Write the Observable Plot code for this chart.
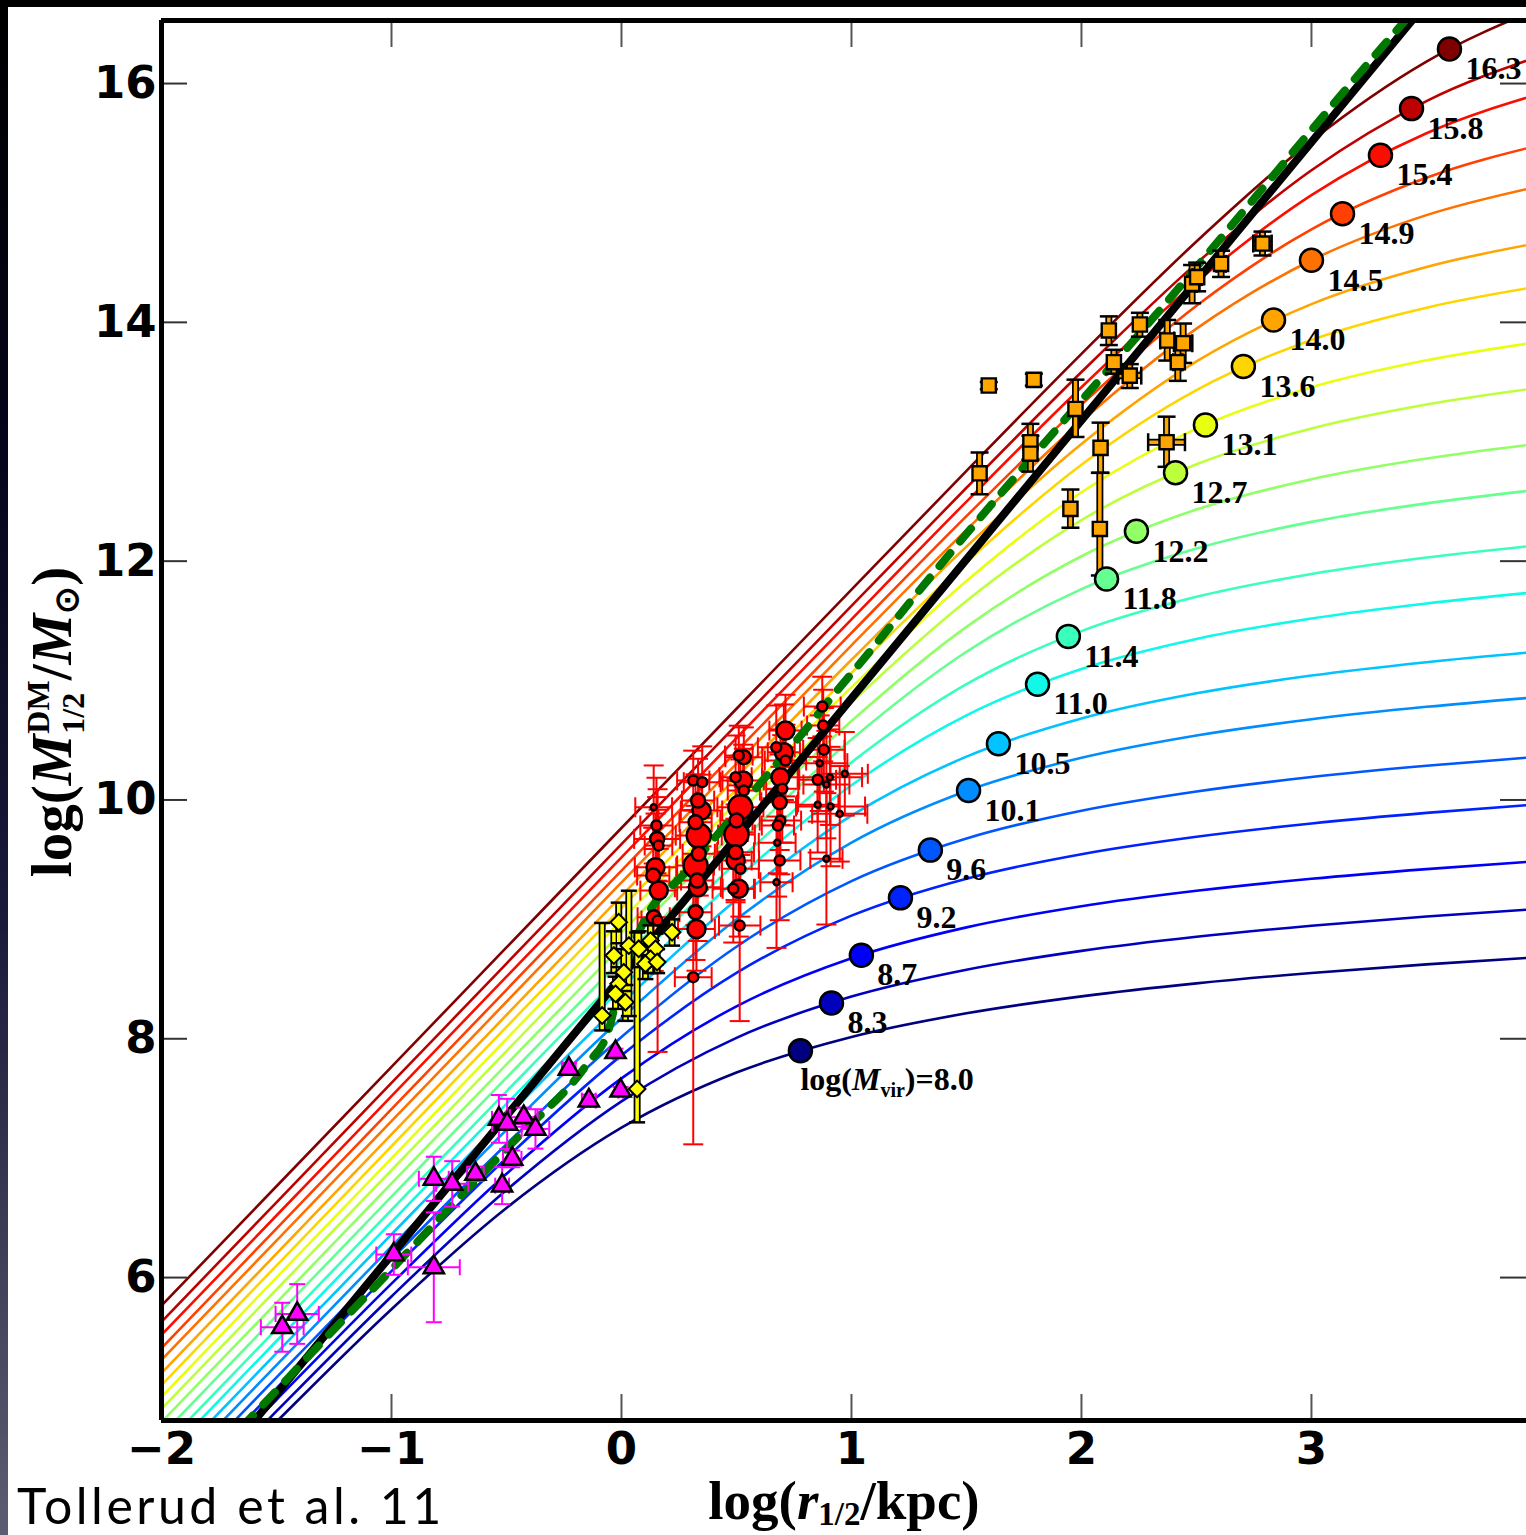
<!DOCTYPE html>
<html><head><meta charset="utf-8">
<script src="https://cdn.jsdelivr.net/npm/d3@7"></script>
<script src="https://cdn.jsdelivr.net/npm/@observablehq/plot@0.6"></script>
<style>
html,body{margin:0;padding:0;background:#fff;overflow:hidden;}
#wrap{position:relative;width:1526px;height:1535px;overflow:hidden;background:#fff;}
#chart{position:absolute;left:0;top:0;}
#topband{position:absolute;left:0;top:0;width:1526px;height:7px;background:#000;}
#leftband{position:absolute;left:0;top:0;width:8px;height:1535px;background:linear-gradient(#000 0%,#05051c 30%,#1a1a3a 60%,#5d5d72 100%);}
.ttl{position:absolute;font-family:"Liberation Serif",serif;font-weight:bold;white-space:nowrap;color:#000;line-height:1;}
#ytitle{left:56px;top:722px;font-size:57px;transform:translate(-50%,-50%) rotate(-90deg);}
#xtitle{left:844px;top:1500px;font-size:55px;transform:translate(-50%,-50%);}
.ss{display:inline-flex;flex-direction:column;font-size:32px;line-height:35px;vertical-align:22px;margin-left:1px;}
.ttl sub{font-size:33px;vertical-align:-0.2em;line-height:0;}
#credit{position:absolute;left:17px;top:1475px;font-family:Lato,"Open Sans",sans-serif;font-size:50px;letter-spacing:3.5px;font-weight:400;white-space:nowrap;color:#000;line-height:60px;}
</style></head><body>
<div id="wrap">
<div id="chart"></div>
<div id="topband"></div><div id="leftband"></div>
<div class="ttl" id="ytitle">log(<i>M</i><span class="ss"><span>DM</span><span>1/2</span></span>/<i>M</i><sub>⊙</sub>)</div>
<div class="ttl" id="xtitle">log(<i>r</i><sub>1/2</sub>/kpc)</div>
<div id="credit">Tollerud et al. 11</div>
</div>
<script>
// ---------- data ----------
const mvirLabels = ["8.0","8.3","8.7","9.2","9.6","10.1","10.5","11.0","11.4","11.8","12.2","12.7","13.1","13.6","14.0","14.5","14.9","15.4","15.8","16.3"];
const dotX = [0.778,0.913,1.043,1.213,1.343,1.509,1.639,1.809,1.943,2.109,2.239,2.409,2.539,2.704,2.835,3.000,3.135,3.300,3.435,3.600];
const dotY = [7.90,8.30,8.70,9.18,9.58,10.08,10.47,10.97,11.37,11.85,12.25,12.74,13.14,13.63,14.02,14.52,14.91,15.40,15.79,16.29];

const curveX = [-2,-1.5,-1,-0.5,0,0.5,1,1.5,2,2.5,3,3.5,4];
const haloCurves = [
 [3.811,4.792,5.735,6.583,7.255,7.717,8.015,8.213,8.355,8.464,8.551,8.623,8.685],
 [3.894,4.881,5.842,6.733,7.476,8.008,8.353,8.578,8.736,8.854,8.947,9.024,9.089],
 [3.986,4.977,5.949,6.869,7.668,8.272,8.674,8.933,9.110,9.239,9.340,9.421,9.490],
 [4.077,5.072,6.054,7.002,7.861,8.551,9.031,9.341,9.546,9.692,9.803,9.892,9.965],
 [4.168,5.164,6.153,7.117,8.015,8.771,9.320,9.677,9.910,10.071,10.192,10.286,10.364],
 [4.269,5.267,6.260,7.237,8.172,9.001,9.643,10.075,10.353,10.540,10.676,10.780,10.864],
 [4.369,5.368,6.362,7.346,8.297,9.165,9.869,10.363,10.682,10.893,11.042,11.154,11.244],
 [4.470,5.469,6.465,7.455,8.425,9.338,10.123,10.709,11.097,11.348,11.520,11.646,11.745],
 [4.570,5.569,6.567,7.560,8.539,9.478,10.315,10.970,11.414,11.701,11.892,12.030,12.136],
 [4.680,5.679,6.678,7.674,8.660,9.619,10.506,11.241,11.766,12.106,12.329,12.484,12.601],
 [4.790,5.790,6.789,7.785,8.776,9.746,10.661,11.450,12.041,12.432,12.686,12.859,12.986],
 [4.900,5.900,6.899,7.897,8.891,9.872,10.817,11.667,12.344,12.811,13.111,13.312,13.455],
 [5.000,6.000,6.999,7.998,8.994,9.981,10.943,11.834,12.577,13.110,13.456,13.682,13.839],
 [5.100,6.100,7.100,8.099,9.096,10.088,11.064,11.992,12.808,13.433,13.853,14.123,14.305],
 [5.200,6.200,7.200,8.199,9.197,10.192,11.174,12.122,12.982,13.673,14.153,14.464,14.670],
 [5.310,6.310,7.310,8.310,9.309,10.305,11.295,12.262,13.171,13.947,14.520,14.898,15.144],
 [5.410,6.410,7.410,8.410,9.409,10.407,11.399,12.377,13.311,14.139,14.779,15.211,15.488],
 [5.520,6.520,7.520,8.520,9.519,10.518,11.513,12.499,13.457,14.338,15.066,15.584,15.919],
 [5.630,6.630,7.630,8.630,9.630,10.629,11.625,12.615,13.584,14.494,15.274,15.853,16.235],
 [5.765,6.765,7.765,8.765,9.765,10.764,11.762,12.756,13.736,14.677,15.520,16.184,16.638]
];

const blackX = [-2, 4];
const blackY = [3.86, 17.84];

const greenX = [-1.75,-1.591,-1.309,-1.017,-0.730,-0.452,-0.148,-0.06,0.0,0.104,0.278,0.461,0.639,0.822,0.909,1.083,1.27,2.443,3.343,3.6];
const greenY = [4.55,4.869,5.447,6.034,6.620,7.173,7.792,8.05,8.5,9.007,9.392,9.811,10.221,10.640,10.849,11.25,11.695,14.333,16.385,16.95];

// red circles
const redX  = [0.140,0.152,0.155,0.161,0.148,0.138,0.162,0.140,0.157, 0.312,0.351,0.333,0.348,0.322,0.336,0.336,0.322,0.329,0.332,0.322,0.326,0.312, 0.532,0.510,0.496,0.529,0.532,0.517,0.500,0.500,0.496,0.496,0.517,0.486,0.510,0.514, 0.713,0.673,0.706,0.713,0.691,0.699,0.688,0.691,0.680,0.677,0.688,0.674, 0.873,0.877,0.880,0.862,0.853,0.906,0.891,0.853,0.909,0.949,0.971,0.891];
const redY  = [9.939,9.786,9.674,9.618,9.436,9.367,9.241,9.018,8.990, 10.163,10.149,9.995,9.912,9.814,9.702,9.549,9.451,9.325,9.269,9.060,8.920,8.516, 10.358,10.372,10.190,10.163,10.079,9.939,9.828,9.710,9.562,9.493,9.423,9.256,9.256,8.948, 10.581,10.441,10.400,10.330,10.191,10.093,9.981,9.827,9.786,9.641,9.493,9.311, 10.782,10.623,10.420,10.308,10.169,10.191,10.129,9.960,9.945,9.884,10.219,9.507];
const redSize = [3,5,7,5,9,7,9,7,5, 5,5,7,9,7,12,7,12,7,9,7,9,5, 7,5,5,9,5,12,7,12,7,9,5,5,9,5, 9,5,9,5,9,5,7,5,5,3,5,3, 5,5,5,3,5,3,3,3,3,3,3,3];
const redEy = [0.35,0.40,0.35,0.30,0.45,0.40,0.35,0.45,1.10, 0.25,0.30,0.35,0.30,0.40,0.45,0.35,0.50,0.40,0.45,0.40,0.35,1.40, 0.25,0.25,0.35,0.30,0.35,0.40,0.35,0.45,0.40,0.35,0.40,0.45,0.40,0.80, 0.30,0.35,0.40,0.30,0.40,0.45,0.40,0.45,0.40,0.45,0.50,0.55, 0.25,0.30,0.35,0.40,0.35,0.40,0.45,0.40,0.50,0.40,0.35,0.55];
const redEx = [0.08,0.07,0.10,0.06,0.09,0.07,0.08,0.07,0.07, 0.07,0.08,0.07,0.09,0.07,0.10,0.07,0.08,0.07,0.10,0.07,0.08,0.08, 0.08,0.06,0.07,0.09,0.07,0.10,0.07,0.08,0.08,0.07,0.08,0.09,0.07,0.09, 0.07,0.08,0.07,0.09,0.08,0.07,0.08,0.09,0.07,0.08,0.09,0.07, 0.08,0.07,0.09,0.12,0.08,0.14,0.10,0.09,0.15,0.12,0.10,0.07];

// magenta triangles
const magX  = [-1.475,-1.410,-0.990,-0.816,-0.816,-0.736,-0.635,-0.519,-0.533,-0.497,-0.475,-0.425,-0.374,-0.229,-0.142,-0.004,-0.026];
const magY  = [5.584,5.695,6.193,6.086,6.827,6.785,6.869,6.770,7.329,7.287,6.994,7.343,7.245,7.748,7.482,7.566,7.887];
const magEx = [0.093,0.094,0.076,0.113,0.065,0.070,0.036,0.030,0.030,0.065,0.040,0.060,0.060,0.030,0.030,0.010,0.010];
const magEy = [0.205,0.25,0.17,0.46,0.185,0.19,0.06,0.155,0.20,0.21,0.07,0.08,0.165,0.05,0.05,0.03,0.03];

// yellow diamonds
const yelX  = [-0.084,-0.033,-0.012,0.010,-0.012,-0.026,0.017,0.032,0.068,0.075,0.126,0.148,0.126,0.104,0.155,0.220];
const yelY  = [8.194,8.697,8.976,8.557,8.460,8.376,8.306,8.780,7.580,8.753,8.822,8.753,8.669,8.627,8.642,8.892];
const yelLo = [8.07,8.55,8.80,8.40,8.33,8.25,8.15,8.19,7.30,8.60,8.70,8.62,8.55,8.50,8.55,8.78];
const yelHi = [8.97,8.90,9.14,8.75,8.60,8.52,8.45,9.24,8.89,8.90,8.95,8.88,8.80,8.75,8.75,9.00];

// orange squares
const orX  = [1.597,1.793,1.557,1.778,1.778,1.974,2.119,2.141,2.254,2.210,2.373,2.442,2.419,2.481,2.503,2.607,2.787,1.952,2.083,2.080,2.370];
const orY  = [13.471,13.518,12.736,12.996,12.900,13.275,13.932,13.666,13.982,13.554,13.848,13.825,13.666,14.322,14.379,14.490,14.660,12.438,12.949,12.270,12.996];
const orEx = [0,0,0,0,0,0,0,0,0,0.05,0.03,0.04,0.02,0.02,0.02,0.02,0.04,0,0,0,0.08];
const orLo = [13.44,13.47,12.56,12.85,12.75,13.04,13.81,13.57,13.88,13.45,13.68,13.66,13.51,14.16,14.26,14.38,14.56,12.28,12.74,11.88,12.79];
const orHi = [13.50,13.57,12.91,13.15,13.05,13.52,14.05,13.77,14.08,13.65,14.02,13.99,13.82,14.48,14.50,14.60,14.76,12.60,13.16,12.74,13.21];

const xTicks = [-2,-1,0,1,2,3];
const yTicks = [6,8,10,12,14,16];

// ---------- styling helpers ----------
function jet(t){
  const c = v => Math.max(0, Math.min(1, v));
  const r = t < 0.35 ? 0 : t < 0.66 ? (t-0.35)/0.31 : t < 0.89 ? 1 : 1 - (t-0.89)/0.11*0.5;
  const g = t < 0.125 ? 0 : t < 0.375 ? (t-0.125)/0.25 : t < 0.64 ? 1 : t < 0.91 ? 1 - (t-0.64)/0.27 : 0;
  const b = t < 0.11 ? 0.5 + t/0.11*0.5 : t < 0.34 ? 1 : t < 0.65 ? 1 - (t-0.34)/0.31 : 0;
  return d3.rgb(255*c(r), 255*c(g), 255*c(b)).formatHex();
}
const capH = {draw(ctx, s){const w = Math.sqrt(s/Math.PI); ctx.moveTo(-w,0); ctx.lineTo(w,0);}};
const capV = {draw(ctx, s){const w = Math.sqrt(s/Math.PI); ctx.moveTo(0,-w); ctx.lineTo(0,w);}};

const N = mvirLabels.length;
const curves = haloCurves.flatMap((row,i) => row.map((y,j) => ({x: curveX[j], y, k: i, c: jet(i/(N-1))})));
const dots = mvirLabels.map((t,i) => ({x: dotX[i], y: dotY[i], t, c: jet(i/(N-1))}));
const blackLine = blackX.map((x,i) => ({x, y: blackY[i]}));
const greenLine = greenX.map((x,i) => ({x, y: greenY[i]}));
const red = redX.map((x,i) => ({x, y: redY[i], r: redSize[i], lo: redY[i]-redEy[i], hi: redY[i]+redEy[i], xl: x-redEx[i], xh: x+redEx[i], ex: redEx[i]}));
const mag = magX.map((x,i) => ({x, y: magY[i], lo: magY[i]-magEy[i], hi: magY[i]+magEy[i], xl: x-magEx[i], xh: x+magEx[i], ex: magEx[i]}));
const yel = yelX.map((x,i) => ({x, y: yelY[i], lo: yelLo[i], hi: yelHi[i], xl: x, xh: x, ex: 0}));
const org = orX.map((x,i) => ({x, y: orY[i], lo: orLo[i], hi: orHi[i], xl: x-orEx[i], xh: x+orEx[i], ex: orEx[i]}));

function errMarks(data, color, capR, outline){
  const hx = data.filter(d => d.ex > 0);
  const caps = data.flatMap(d => [{x: d.x, y: d.lo}, {x: d.x, y: d.hi}]);
  const capsX = hx.flatMap(d => [{x: d.xl, y: d.y}, {x: d.xh, y: d.y}]);
  const m = [];
  if (outline) {
    m.push(Plot.ruleX(data, {x: "x", y1: "lo", y2: "hi", stroke: "#000", strokeWidth: 7}));
    m.push(Plot.ruleY(hx, {y: "y", x1: "xl", x2: "xh", stroke: "#000", strokeWidth: 7}));
  }
  m.push(Plot.ruleX(data, {x: "x", y1: "lo", y2: "hi", stroke: color, strokeWidth: outline ? 3.5 : 2}));
  m.push(Plot.ruleY(hx, {y: "y", x1: "xl", x2: "xh", stroke: color, strokeWidth: outline ? 3.5 : 2}));
  const capColor = outline ? "#000" : color;
  m.push(Plot.dot(caps, {x: "x", y: "y", symbol: capH, r: capR, fill: "none", stroke: capColor, strokeWidth: outline ? 2.5 : 2}));
  m.push(Plot.dot(capsX, {x: "x", y: "y", symbol: capV, r: capR, fill: "none", stroke: capColor, strokeWidth: outline ? 2.5 : 2}));
  return m;
}

const xDom = [-2, 3.935], yDom = [4.803, 16.528];
const innerW = 1526 - 161, innerH = 1535 - 20 - 115;
const labFont = {fontFamily: "Liberation Serif", fontWeight: "bold", fontSize: 32};

const plot = Plot.plot({
  width: 1526, height: 1535,
  marginLeft: 161, marginRight: 0, marginTop: 20, marginBottom: 115,
  x: {domain: xDom}, y: {domain: yDom},
  color: {type: "identity"},
  r: {type: "linear", domain: [0, 12], range: [0, 12]},
  style: {background: "transparent", fontFamily: "DejaVu Sans", color: "#000"},
  marks: [
    Plot.line(curves, {x: "x", y: "y", z: "k", stroke: "c", strokeWidth: 2.6, curve: "monotone-x", clip: true}),
    ...errMarks(red, "#ff0000", 10, false),
    Plot.line(blackLine, {x: "x", y: "y", stroke: "#000", strokeWidth: 8, clip: true}),
    Plot.line(greenLine, {x: "x", y: "y", stroke: "#007800", strokeWidth: 8, strokeDasharray: "17,15", curve: "monotone-x", clip: true}),
    ...errMarks(mag, "#ff00ff", 8, false),
    ...errMarks(yel, "#ffff00", 8, true),
    ...errMarks(org, "#ffa500", 9, true),
    Plot.dot(red, {x: "x", y: "y", r: "r", fill: "#ff0000", stroke: "#000", strokeWidth: 2.5}),
    Plot.dot(mag, {x: "x", y: "y", symbol: "triangle", r: 7.5, fill: "#ff00ff", stroke: "#000", strokeWidth: 2.5}),
    Plot.dot(yel, {x: "x", y: "y", symbol: "diamond2", r: 7.5, fill: "#ffff00", stroke: "#000", strokeWidth: 2}),
    Plot.dot(org, {x: "x", y: "y", symbol: "square", r: 8, fill: "#ffa500", stroke: "#000", strokeWidth: 2.4}),
    Plot.dot(dots, {x: "x", y: "y", r: 11.5, fill: "c", stroke: "#000", strokeWidth: 2.5}),
    Plot.text(dots.slice(1), {x: "x", y: "y", text: "t", dx: 16, dy: 20, textAnchor: "start", ...labFont}),
    Plot.text(dots.slice(0,1), {x: "x", y: "y", text: d => "log(Mvir)=" + d.t, dx: 0, dy: 29, textAnchor: "start", ...labFont}),
    // inward ticks
    Plot.tickX(xTicks.slice(1), {x: d => d, stroke: "#555", strokeWidth: 2, insetTop: innerH - 26}),
    Plot.tickX(xTicks.slice(1), {x: d => d, stroke: "#555", strokeWidth: 2, insetBottom: innerH - 27}),
    Plot.tickY(yTicks, {y: d => d, stroke: "#333", strokeWidth: 2, insetRight: innerW - 26}),
    Plot.tickY(yTicks, {y: d => d, stroke: "#333", strokeWidth: 2, insetLeft: innerW - 26}),
    // frame (left, bottom, top)
    Plot.ruleX([xDom[0]], {stroke: "#000", strokeWidth: 5}),
    Plot.ruleY(yDom, {stroke: "#000", strokeWidth: 5}),
    Plot.axisX(xTicks, {tickSize: 0, tickPadding: 12, fontSize: 45, fontWeight: "bold", label: null, tickFormat: d => d < 0 ? "\u2212" + Math.abs(d) : String(d)}),
    Plot.axisY(yTicks, {tickSize: 0, tickPadding: 5, fontSize: 45, fontWeight: "bold", label: null, tickFormat: d => String(d)})
  ]
});
document.getElementById("chart").appendChild(plot);

// subscript in the first halo label
let t0 = null;
for (const t of plot.querySelectorAll("text")) {
  if (t.textContent === "log(Mvir)=8.0") { t0 = t; break; }
}
if (t0) {
  const ns = "http://www.w3.org/2000/svg";
  t0.textContent = "";
  const parts = [["log(", {}], ["M", {"font-style": "italic"}], ["vir", {"font-size": 20, dy: 7}], [")=8.0", {dy: -7}]];
  for (const [txt, at] of parts) {
    const ts = document.createElementNS(ns, "tspan");
    for (const k in at) ts.setAttribute(k, at[k]);
    ts.textContent = txt;
    t0.appendChild(ts);
  }
}
</script>
</body></html>
